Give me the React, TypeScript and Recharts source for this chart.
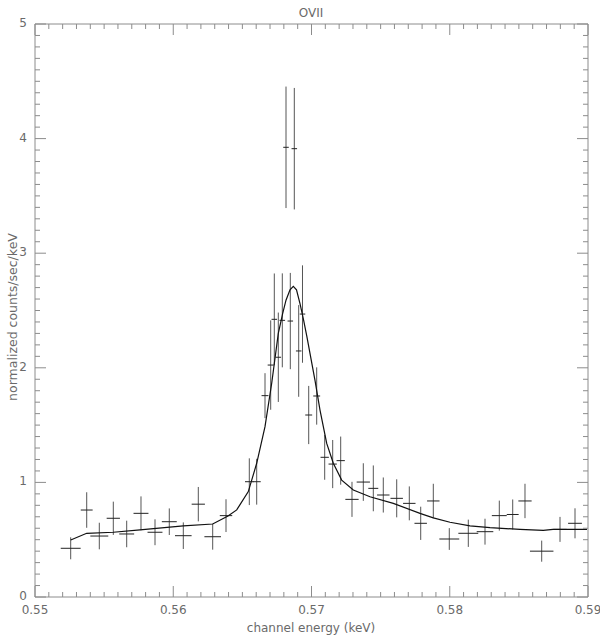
import React from 'react';
import { ScatterChart, Scatter, XAxis, YAxis, ErrorBar } from 'recharts';

// Observed spectrum: channel energy (keV), normalized counts/sec/keV, and errors
const energy = [
  0.552582, 0.55374, 0.554651, 0.555664, 0.556633, 0.557667, 0.55868, 0.559714,
  0.560727, 0.561812, 0.562853, 0.563816, 0.565501, 0.566036, 0.566637, 0.567049,
  0.567309, 0.567599, 0.567888, 0.568156, 0.568467, 0.568756, 0.569074, 0.569349,
  0.569798, 0.570376, 0.570955, 0.571533, 0.572112, 0.572929, 0.573747, 0.57447,
  0.575193, 0.576163, 0.577074, 0.577899, 0.57881, 0.579967, 0.581342, 0.58255,
  0.583584, 0.584554, 0.585443, 0.586651, 0.587975, 0.58906,
];
const counts = [
  0.425, 0.759, 0.532, 0.687, 0.55, 0.73, 0.565, 0.657,
  0.535, 0.81, 0.526, 0.71, 1.006, 1.006, 1.757, 2.024,
  2.423, 2.092, 2.414, 3.924, 2.408, 3.912, 2.147, 2.469,
  1.588, 1.754, 1.219, 1.16, 1.19, 0.852, 1.003, 0.948,
  0.89, 0.861, 0.817, 0.643, 0.838, 0.506, 0.556, 0.57,
  0.71, 0.72, 0.838, 0.4, 0.59, 0.643,
];
const countsErr = [
  0.096, 0.155, 0.116, 0.145, 0.116, 0.148, 0.113, 0.116,
  0.116, 0.15, 0.113, 0.143, 0.204, 0.2, 0.196, 0.39,
  0.4, 0.39, 0.41, 0.53, 0.42, 0.53, 0.4, 0.425,
  0.254, 0.25, 0.196, 0.21, 0.21, 0.153, 0.164, 0.2,
  0.153, 0.166, 0.148, 0.145, 0.15, 0.095, 0.119, 0.113,
  0.131, 0.131, 0.15, 0.092, 0.109, 0.131,
];
const energyErr = [
  0.00072, 0.00043, 0.00065, 0.00048, 0.00054, 0.00054, 0.00054, 0.00054,
  0.0006, 0.00048, 0.0006, 0.00045, 0.00031, 0.00029, 0.00025, 0.00022,
  0.0002, 0.0002, 0.0002, 0.0002, 0.0002, 0.0002, 0.0002, 0.0002,
  0.00025, 0.00025, 0.0003, 0.0003, 0.0003, 0.00048, 0.00048, 0.00036,
  0.00045, 0.00045, 0.00045, 0.00045, 0.00045, 0.00072, 0.00072, 0.0006,
  0.00054, 0.00043, 0.00048, 0.00085, 0.00048, 0.0005,
];

// Folded model curve
const modelEnergy = [
  0.552582, 0.55374, 0.555664, 0.557595, 0.560727, 0.562853, 0.56396, 0.56459,
  0.565429, 0.566036, 0.566637, 0.567121, 0.567599, 0.567917, 0.568156, 0.568445,
  0.568684, 0.568915, 0.569168, 0.569407, 0.569653, 0.570253, 0.570615, 0.5711,
  0.571577, 0.572184, 0.573024, 0.574231, 0.575917, 0.577848, 0.57881, 0.580018,
  0.581465, 0.582911, 0.585081, 0.586767, 0.587468, 0.589928,
];
const modelCounts = [
  0.497, 0.556, 0.565, 0.585, 0.62, 0.637, 0.707, 0.76,
  0.92, 1.167, 1.486, 1.865, 2.3, 2.475, 2.59, 2.68,
  2.71, 2.68, 2.56, 2.43, 2.28, 1.89, 1.63, 1.34,
  1.167, 1.02, 0.934, 0.875, 0.817, 0.73, 0.69, 0.652,
  0.62, 0.605, 0.59, 0.582, 0.59, 0.59,
];

const xMajorTicks = [0.55, 0.56, 0.57, 0.58, 0.59];
const yMajorTicks = [0, 1, 2, 3, 4, 5];
const titleText = 'OVII';
const xTitle = 'channel energy (keV)';
const yTitle = 'normalized counts/sec/keV';

const xTicks = Array.from({ length: 41 }, (_, i) => Number(((550 + i) / 1000).toFixed(3)));
const yTicks = Array.from({ length: 51 }, (_, i) => Number((i / 10).toFixed(1)));

const isMajorX = (v: number) => xMajorTicks.some((m) => Math.abs(m - v) < 1e-6);
const isMajorY = (v: number) => yMajorTicks.some((m) => Math.abs(m - v) < 1e-6);

const spectrum = energy.map((e, i) => ({ x: e, y: counts[i], xe: energyErr[i], ye: countsErr[i] }));
const model = modelEnergy.map((e, i) => ({ x: e, y: modelCounts[i] }));

const AXIS = '#8c8c8c';
const TEXT = '#6a6a6a';
const FONT = 'DejaVu Sans';
const MAJ = 11;
const MIN = 5;

const BottomTick = (p: any) => {
  const { x, y, payload } = p;
  const major = isMajorX(payload.value);
  return (
    <g>
      <line x1={x} y1={y} x2={x} y2={y - (major ? MAJ : MIN)} stroke={AXIS} strokeWidth={1} />
      {major && (
        <text x={x} y={y + 17} textAnchor="middle" fill={TEXT} fontSize={12} fontFamily={FONT}>
          {payload.value.toFixed(2)}
        </text>
      )}
    </g>
  );
};

const TopTick = (p: any) => {
  const { x, y, payload } = p;
  const major = isMajorX(payload.value);
  return <line x1={x} y1={y} x2={x} y2={y + (major ? MAJ : MIN)} stroke={AXIS} strokeWidth={1} />;
};

const LeftTick = (p: any) => {
  const { x, y, payload } = p;
  const major = isMajorY(payload.value);
  return (
    <g>
      <line x1={x} y1={y} x2={x + (major ? MAJ : MIN)} y2={y} stroke={AXIS} strokeWidth={1} />
      {major && (
        <text x={x - 8} y={y + 3} textAnchor="end" fill={TEXT} fontSize={12} fontFamily={FONT}>
          {payload.value.toFixed(0)}
        </text>
      )}
    </g>
  );
};

const RightTick = (p: any) => {
  const { x, y, payload } = p;
  const major = isMajorY(payload.value);
  return <line x1={x} y1={y} x2={x - (major ? MAJ : MIN)} y2={y} stroke={AXIS} strokeWidth={1} />;
};

const NoShape = () => <g />;

export default function App() {
  return (
    <div style={{ position: 'absolute', left: 0, top: 0, width: 600, height: 636, background: '#fff' }}>
      <ScatterChart
        width={600}
        height={636}
        margin={{ top: 23, right: 11, bottom: 9, left: 5 }}
        style={{ overflow: 'visible' }}
      >
        <XAxis
          xAxisId="bottom"
          orientation="bottom"
          type="number"
          dataKey="x"
          domain={[0.55, 0.59]}
          ticks={xTicks}
          interval={0}
          height={30}
          tickSize={0}
          tickMargin={0}
          stroke={AXIS}
          tick={BottomTick}
          allowDataOverflow
        />
        <XAxis
          xAxisId="top"
          orientation="top"
          type="number"
          dataKey="x"
          domain={[0.55, 0.59]}
          ticks={xTicks}
          interval={0}
          height={1}
          tickSize={0}
          tickMargin={0}
          stroke={AXIS}
          tick={TopTick}
          allowDataOverflow
        />
        <YAxis
          yAxisId="left"
          orientation="left"
          type="number"
          dataKey="y"
          domain={[0, 5]}
          ticks={yTicks}
          interval={0}
          width={30}
          tickSize={0}
          tickMargin={0}
          stroke={AXIS}
          tick={LeftTick}
          allowDataOverflow
        />
        <YAxis
          yAxisId="right"
          orientation="right"
          type="number"
          dataKey="y"
          domain={[0, 5]}
          ticks={yTicks}
          interval={0}
          width={1}
          tickSize={0}
          tickMargin={0}
          stroke={AXIS}
          tick={RightTick}
          allowDataOverflow
        />
        <Scatter xAxisId="bottom" yAxisId="left" data={spectrum} shape={NoShape} isAnimationActive={false}>
          <ErrorBar dataKey="ye" direction="y" width={0} stroke="#555" strokeWidth={1} isAnimationActive={false} />
          <ErrorBar dataKey="xe" direction="x" width={0} stroke="#222" strokeWidth={1} isAnimationActive={false} />
        </Scatter>
        <Scatter
          xAxisId="top"
          yAxisId="right"
          data={model}
          shape={NoShape}
          line={{ stroke: '#111', strokeWidth: 1.2 }}
          lineType="joint"
          isAnimationActive={false}
        />
      </ScatterChart>
      <svg width={600} height={636} style={{ position: 'absolute', left: 0, top: 0, pointerEvents: 'none' }}>
        <text x={311} y={17} textAnchor="middle" fill={TEXT} fontSize={12} fontFamily={FONT}>
          {titleText}
        </text>
        <text x={311} y={632} textAnchor="middle" fill={TEXT} fontSize={12} fontFamily={FONT}>
          {xTitle}
        </text>
        <text
          x={0}
          y={0}
          transform="translate(17 317) rotate(-90)"
          textAnchor="middle"
          fill={TEXT}
          fontSize={12.5}
          fontFamily={FONT}
        >
          {yTitle}
        </text>
      </svg>
    </div>
  );
}
